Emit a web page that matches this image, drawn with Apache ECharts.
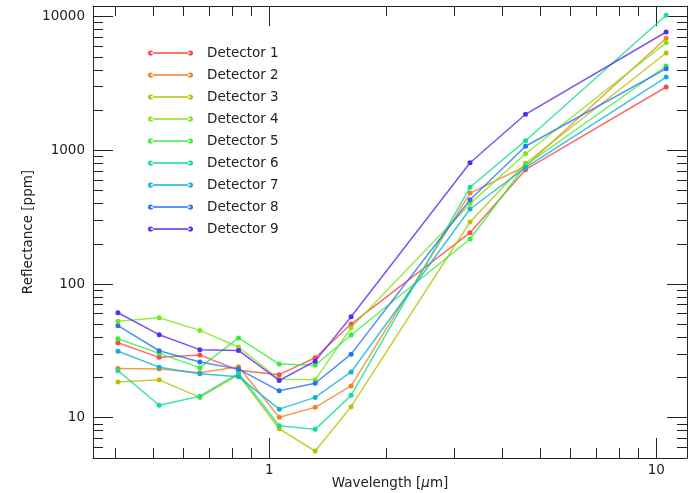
<!DOCTYPE html>
<html>
<head>
<meta charset="utf-8">
<script src="https://cdn.jsdelivr.net/npm/echarts@6/dist/echarts.min.js"></script>
<style>html,body{margin:0;padding:0;background:#fff}#c{width:689px;height:493px}</style>
</head>
<body>
<div id="c"></div>
<script>
const wavelengths = [0.406, 0.519, 0.661, 0.832, 1.06, 1.313, 1.626, 3.30, 4.59, 10.6];
const detectorNames = ['Detector 1','Detector 2','Detector 3','Detector 4','Detector 5','Detector 6','Detector 7','Detector 8','Detector 9'];
const det1 = [36.4, 28.3, 29.4, 22.7, 21.0, 28.1, 50.2, 242, 716, 2975];
const det2 = [23.3, 23.1, 21.7, 24.1, 10.07, 11.96, 17.3, 479, 760, 6880];
const det3 = [18.5, 19.2, 14.2, 20.9, 8.27, 5.64, 12.1, 291, 800, 5340];
const det4 = [52.6, 56.0, 45.0, 33.8, 19.4, 19.2, 47.1, 399, 943, 6380];
const det5 = [39.0, 30.3, 23.7, 39.5, 25.2, 24.7, 41.6, 217, 773, 4270];
const det6 = [22.5, 12.4, 14.5, 21.5, 8.71, 8.19, 14.7, 529, 1180, 10240];
const det7 = [31.4, 23.9, 21.3, 20.3, 11.6, 14.2, 22.0, 364, 741, 3530];
const det8 = [48.8, 31.7, 26.1, 23.1, 15.9, 18.1, 29.9, 427, 1072, 4080];
const det9 = [61.0, 41.8, 32.3, 31.9, 19.0, 26.5, 56.9, 807, 1859, 7670];
const xMajorTicks = [1, 10];
const xMinorTicks = [0.4, 0.5, 0.6, 0.7, 0.8, 0.9, 2, 3, 4, 5, 6, 7, 8, 9];
const yMajorTicks = [10, 100, 1000, 10000];
const yMinorTicks = [6, 7, 8, 9, 20, 30, 40, 50, 60, 70, 80, 90, 200, 300, 400, 500, 600, 700, 800, 900, 2000, 3000, 4000, 5000, 6000, 7000, 8000, 9000];

const colors = ['#ff4545', '#f2831f', '#b9c200', '#7fe61e', '#32f03a', '#12e08e', '#12b0d8', '#2472f6', '#5a2af0'];
const allData = [det1, det2, det3, det4, det5, det6, det7, det8, det9];

const FONT = 'DejaVu Sans';
const AX = '#222';
const XMIN = 0.35, XMAX = 12, YMIN = 5, YMAX = 12000;

function xAx(pos, ticks, len, showLine, labels) {
  return {
    type: 'log', logBase: 10, min: XMIN, max: XMAX, position: pos,
    axisLine: {show: showLine, lineStyle: {color: AX, width: 1}},
    axisTick: {show: true, inside: true, length: len, customValues: ticks, lineStyle: {color: AX, width: 1}},
    axisLabel: labels ? {show: true, customValues: labels, margin: 5, color: '#222', fontFamily: FONT, fontSize: 13.5, formatter: v => String(Math.round(v))} : {show: false},
    splitLine: {show: false}, minorTick: {show: false}, minorSplitLine: {show: false}
  };
}
function yAx(pos, ticks, len, showLine, labels) {
  return {
    type: 'log', logBase: 10, min: YMIN, max: YMAX, position: pos,
    axisLine: {show: showLine, lineStyle: {color: AX, width: 1}},
    axisTick: {show: true, inside: true, length: len, customValues: ticks, lineStyle: {color: AX, width: 1}},
    axisLabel: labels ? {show: true, customValues: labels, margin: 8, color: '#222', fontFamily: FONT, fontSize: 13.5, formatter: v => String(Math.round(v))} : {show: false},
    splitLine: {show: false}, minorTick: {show: false}, minorSplitLine: {show: false}
  };
}

const xAxes = [
  xAx('bottom', xMajorTicks, 20, true, xMajorTicks),
  xAx('bottom', xMinorTicks, 10, false, null),
  xAx('top', xMajorTicks, 20, true, null),
  xAx('top', xMinorTicks, 10, false, null)
];
xAxes[0].name = 'Wavelength [{i|μ}m]';
xAxes[0].nameLocation = 'middle';
xAxes[0].nameGap = 18;
xAxes[0].nameMoveOverlap = false;
xAxes[0].nameTextStyle = {color: '#222', fontFamily: FONT, fontSize: 13.5, rich: {i: {fontStyle: 'italic', fontFamily: FONT, fontSize: 13.5, color: '#222'}}};

const yAxes = [
  yAx('left', yMajorTicks, 20, true, yMajorTicks),
  yAx('left', yMinorTicks, 10, false, null),
  yAx('right', yMajorTicks, 20, true, null),
  yAx('right', yMinorTicks, 10, false, null)
];
yAxes[0].name = 'Reflectance [ppm]';
yAxes[0].nameLocation = 'middle';
yAxes[0].nameGap = 58;
yAxes[0].nameMoveOverlap = false;
yAxes[0].nameTextStyle = {color: '#222', fontFamily: FONT, fontSize: 13.5};

const legendIcon = 'path://M0,3 A2.6,2.6 0 1,0 5.2,3 A2.6,2.6 0 1,0 0,3 Z M39.8,3 A2.6,2.6 0 1,0 45,3 A2.6,2.6 0 1,0 39.8,3 Z M2.6,2.35 L42.4,2.35 L42.4,3.65 L2.6,3.65 Z';

const series = detectorNames.map((name, i) => ({
  name: name,
  type: 'line',
  xAxisIndex: 0, yAxisIndex: 0,
  data: wavelengths.map((w, j) => [w, allData[i][j]]),
  symbol: 'circle', symbolSize: 5, showSymbol: true,
  itemStyle: {color: colors[i], borderWidth: 0},
  lineStyle: {color: colors[i], width: 1.5, opacity: 0.8},
  emphasis: {disabled: true},
  z: 2 + i
}));

const chart = echarts.init(document.getElementById('c'), null, {renderer: 'canvas'});
chart.setOption({
  animation: false,
  backgroundColor: '#fff',
  grid: {left: 93, right: 2, top: 6, bottom: 35, containLabel: false, outerBoundsMode: 'none'},
  xAxis: xAxes,
  yAxis: yAxes,
  legend: {
    data: detectorNames,
    orient: 'vertical',
    left: 148, top: 46, padding: 0,
    itemWidth: 45, itemHeight: 6, itemGap: 8,
    icon: legendIcon,
    itemStyle: {borderWidth: 0},
    textStyle: {color: '#222', fontFamily: FONT, fontSize: 13.5, lineHeight: 14, padding: [0, 0, 0, 9]},
    selectedMode: false
  },
  series: series
});
</script>
</body>
</html>
